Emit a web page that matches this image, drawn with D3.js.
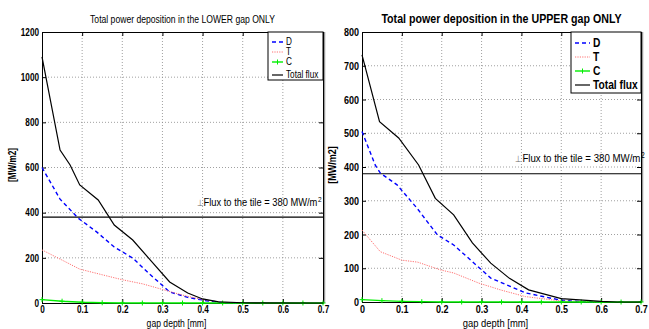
<!DOCTYPE html>
<html>
<head>
<meta charset="utf-8">
<script src="https://cdn.jsdelivr.net/npm/d3@7"></script>
<style>
  body { margin: 0; background: #fff; }
  svg { display: block; font-family: "Liberation Sans", Arial, sans-serif; }
</style>
</head>
<body>
<script>
// x ticks shared by both panels
const xTicks = [0, 0.1, 0.2, 0.3, 0.4, 0.5, 0.6, 0.7];
const lowerYTicks = [0, 200, 400, 600, 800, 1000, 1200];
const upperYTicks = [0, 100, 200, 300, 400, 500, 600, 700, 800];
const tileFlux = 380;

// LOWER gap, [depth mm, MW/m2]
const lowerTotal = [[0, 1090], [0.045, 677], [0.07, 611], [0.094, 523], [0.14, 456], [0.18, 345],
  [0.226, 279], [0.27, 190], [0.318, 93], [0.363, 44], [0.4, 18], [0.44, 5], [0.5, 1], [0.7, 0]];
const lowerD = [[0, 600], [0.045, 460], [0.09, 376], [0.136, 315], [0.18, 248], [0.226, 199],
  [0.27, 125], [0.318, 49], [0.363, 25], [0.41, 10], [0.45, 2], [0.5, 0]];
const lowerT = [[0, 235], [0.05, 190], [0.094, 150], [0.15, 125], [0.2, 103], [0.25, 85],
  [0.3, 60], [0.35, 35], [0.4, 15], [0.45, 3], [0.5, 0]];
const lowerC = [[0, 15], [0.05, 8], [0.1, 3], [0.15, 1], [0.2, 0], [0.25, 0], [0.3, 0], [0.35, 0],
  [0.4, 0], [0.45, 0], [0.5, 0], [0.55, 0], [0.6, 0], [0.65, 0], [0.7, 0]];

// UPPER gap
const upperTotal = [[0, 732], [0.044, 534], [0.092, 486], [0.142, 406], [0.184, 307], [0.23, 258],
  [0.277, 175], [0.323, 115], [0.37, 70], [0.418, 36], [0.5, 10], [0.6, 2], [0.64, 0], [0.7, 0]];
const upperD = [[0, 505], [0.033, 406], [0.046, 382], [0.088, 347], [0.138, 278], [0.189, 199],
  [0.23, 169], [0.323, 71], [0.41, 27], [0.5, 5], [0.55, 1], [0.6, 0]];
const upperT = [[0, 213], [0.046, 149], [0.1, 124], [0.14, 118], [0.197, 95], [0.23, 86],
  [0.293, 56], [0.35, 35], [0.41, 16], [0.5, 3], [0.6, 0]];
const upperC = [[0, 7], [0.05, 4], [0.1, 2], [0.15, 1], [0.2, 0], [0.25, 0], [0.3, 0], [0.35, 0],
  [0.4, 0], [0.45, 0], [0.5, 0], [0.55, 0], [0.6, 0], [0.65, 0], [0.7, 0]];

const legendNames = ["D", "T", "C", "Total flux"];

const width = 649, height = 329;
const squeeze = 0.82; // the original uses a condensed face
const svg = d3.select("body").append("svg").attr("width", width).attr("height", height);

const panels = [
  {
    title: "Total power deposition in the LOWER gap ONLY", titleSize: 10.5, titleWeight: "normal",
    left: 42, right: 323, top: 32, bottom: 303, yMax: 1200, yTicks: lowerYTicks, font: 10,
    series: [lowerD, lowerT, lowerC, lowerTotal],
    legend: {x: 268, y: 32, w: 55, h: 48, rows: [42, 52, 62, 75], line: 11, fs: 10},
    note: {x: 0.385, dy: -11, fs: 11.4}
  },
  {
    title: "Total power deposition in the UPPER gap ONLY", titleSize: 13, titleWeight: "bold",
    left: 362, right: 641, top: 32, bottom: 302, yMax: 800, yTicks: upperYTicks, font: 11,
    series: [upperD, upperT, upperC, upperTotal],
    legend: {x: 571, y: 32, w: 70, h: 61, rows: [43, 57, 71, 85], line: 15, fs: 12.5},
    note: {x: 0.385, dy: -12, fs: 11.8}
  }
];

const styles = [
  {stroke: "#0000ff", dash: "4,3", width: 1.4},
  {stroke: "#ff7070", dash: "1.2,1.2", width: 1},
  {stroke: "#00ee00", dash: null, width: 1.4},
  {stroke: "#000", dash: null, width: 1.2}
];

panels.forEach(p => {
  const x = d3.scaleLinear().domain([0, 0.7]).range([p.left, p.right]);
  const y = d3.scaleLinear().domain([0, p.yMax]).range([p.bottom, p.top]);
  const g = svg.append("g");

  // grey shadow on the right border
  g.append("line").attr("x1", p.right + 1.5).attr("x2", p.right + 1.5).attr("y1", p.top).attr("y2", p.bottom)
    .attr("stroke", "#999").attr("stroke-width", 1.5);

  // grid
  g.append("g").selectAll("line").data(xTicks.slice(1, -1)).join("line")
    .attr("x1", d => x(d)).attr("x2", d => x(d)).attr("y1", p.top).attr("y2", p.bottom)
    .attr("stroke", "#888").attr("stroke-dasharray", "1,2").attr("stroke-width", 0.8);
  g.append("g").selectAll("line").data(p.yTicks.slice(1, -1)).join("line")
    .attr("x1", p.left).attr("x2", p.right).attr("y1", d => y(d)).attr("y2", d => y(d))
    .attr("stroke", "#888").attr("stroke-dasharray", "1,2").attr("stroke-width", 0.8);

  // axes (ticks inside, MATLAB style)
  const ax = (gen, tr, vals, fmt, pad) => g.append("g").attr("transform", tr)
    .call(gen.tickValues(vals).tickSize(-4).tickPadding(pad).tickFormat(fmt))
    .call(s => s.selectAll("text").attr("font-size", p.font).attr("font-weight", "bold").attr("fill", "#000"))
    .call(s => s.select(".domain").attr("stroke", "#000"));
  ax(d3.axisBottom(x), `translate(0,${p.bottom})`, xTicks, d3.format("~g"), 3);
  ax(d3.axisLeft(y), `translate(${p.left},0)`, p.yTicks, d3.format("d"), 3);
  ax(d3.axisTop(x), `translate(0,${p.top})`, xTicks, () => "", 3);
  ax(d3.axisRight(y), `translate(${p.right},0)`, p.yTicks, () => "", 3);

  // reference flux line and its note
  g.append("line").attr("x1", p.left).attr("x2", p.right)
    .attr("y1", y(tileFlux)).attr("y2", y(tileFlux)).attr("stroke", "#000").attr("stroke-width", 1.2);
  const nx = x(p.note.x), ny = y(tileFlux) + p.note.dy;
  g.append("text").attr("x", nx).attr("y", ny)
    .attr("font-size", p.note.fs * 0.8).attr("fill", "#666").text("⊥");
  const main = g.append("text").attr("x", nx + 7).attr("y", ny)
    .attr("font-size", p.note.fs).attr("fill", "#000").text("Flux to the tile = 380 MW/m");
  const mw = main.node().getComputedTextLength() * squeeze;
  g.append("text").attr("x", nx + 7 + mw + 0.5).attr("y", ny - 4)
    .attr("font-size", p.note.fs * 0.7).attr("fill", "#000").text("2");

  // series
  const line = d3.line().x(d => x(d[0])).y(d => y(d[1]));
  p.series.forEach((s, i) => {
    const st = styles[i];
    g.append("path").datum(s).attr("d", line).attr("fill", "none")
      .attr("stroke", st.stroke).attr("stroke-width", st.width)
      .attr("stroke-dasharray", st.dash);
    if (i === 2) {
      g.append("g").selectAll("path").data(s).join("path")
        .attr("d", d => `M${x(d[0]) - 2.5},${y(d[1])}h5M${x(d[0])},${y(d[1]) - 2.5}v5`)
        .attr("stroke", st.stroke).attr("stroke-width", 1);
    }
  });

  // legend
  const L = p.legend;
  g.append("rect").attr("x", L.x).attr("y", L.y).attr("width", L.w).attr("height", L.h)
    .attr("fill", "#fff").attr("stroke", "#000").attr("stroke-width", 1);
  legendNames.forEach((name, i) => {
    const st = styles[i], ry = L.rows[i];
    g.append("line").attr("x1", L.x + 4).attr("x2", L.x + 4 + L.line).attr("y1", ry).attr("y2", ry)
      .attr("stroke", st.stroke).attr("stroke-width", st.width).attr("stroke-dasharray", st.dash);
    if (i === 2) {
      const cx = L.x + 4 + L.line / 2;
      g.append("path").attr("d", `M${cx},${ry - 2.5}v5`).attr("stroke", st.stroke);
    }
    g.append("text").attr("x", L.x + 7 + L.line).attr("y", ry).attr("dy", "0.35em")
      .attr("font-size", L.fs).attr("font-weight", p.titleWeight).text(name);
  });

  // titles / labels
  g.append("text").attr("x", (p.left + p.right) / 2).attr("y", 23).attr("text-anchor", "middle")
    .attr("font-size", p.titleSize).attr("font-weight", p.titleWeight).text(p.title);
  g.append("text").attr("x", (p.left + p.right) / 2 - 6).attr("y", 327).attr("text-anchor", "middle")
    .attr("font-size", p.font + 0.5).text("gap depth [mm]");
  g.append("text").attr("transform", `translate(${p.left - 26},165) rotate(-90)`)
    .attr("text-anchor", "middle").attr("font-size", p.font).attr("font-weight", "bold").text("[MW/m2]");
});

// squeeze every text horizontally about its own anchor
svg.selectAll("text").each(function () {
  const t = d3.select(this);
  const tr = t.attr("transform");
  if (tr) { t.attr("transform", `${tr} scale(${squeeze},1)`); return; }
  const x0 = +(t.attr("x") || 0);
  t.attr("transform", `translate(${x0},0) scale(${squeeze},1) translate(${-x0},0)`);
});
</script>
</body>
</html>
